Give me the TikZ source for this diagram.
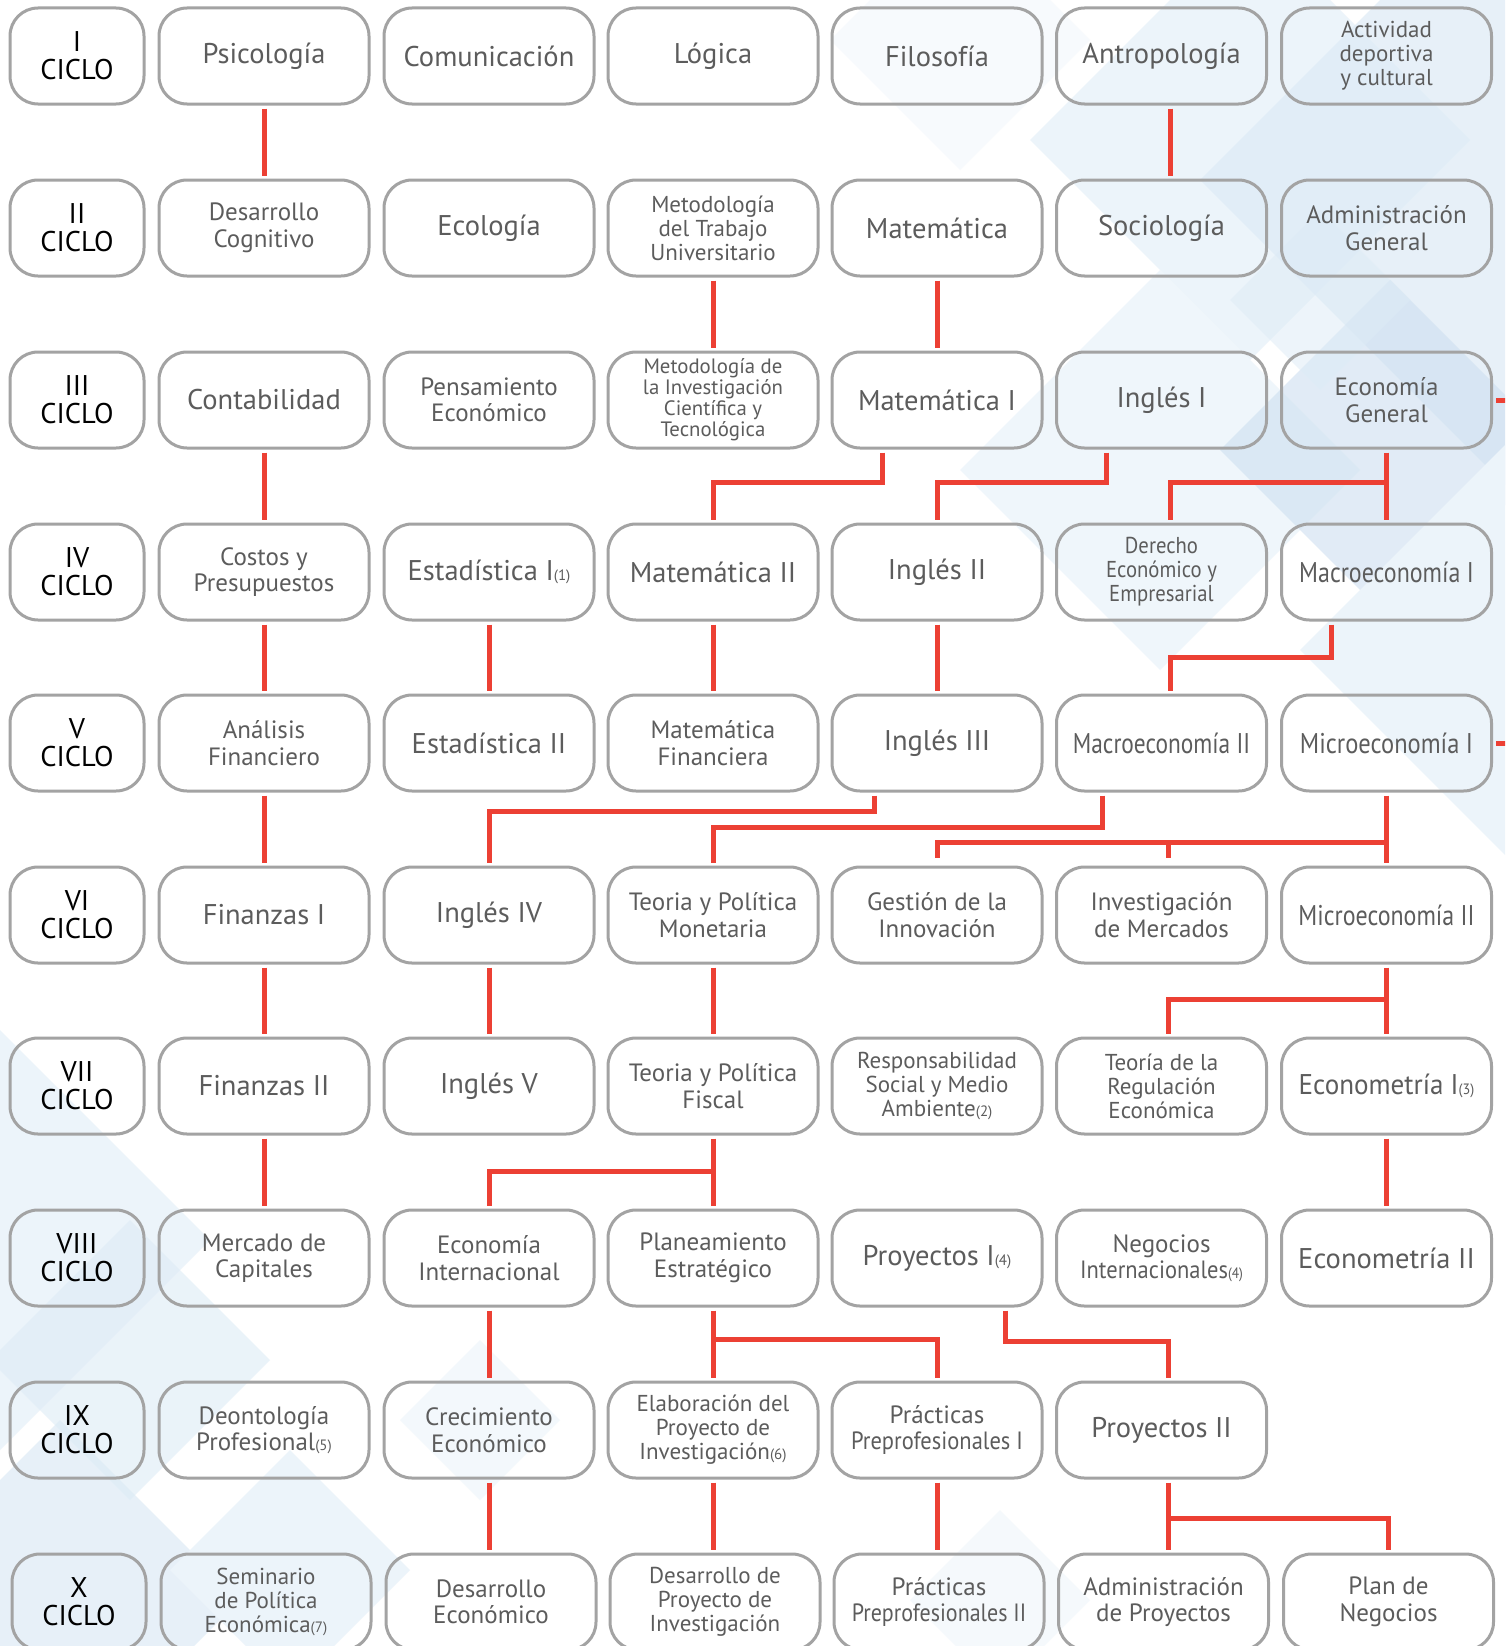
\documentclass[tikz,border=0pt]{standalone}
\usepackage{fontspec}
\setmainfont{PT Sans}
\usepackage{graphicx}
\definecolor{boxgray}{RGB}{163,163,163}
\definecolor{txtgray}{RGB}{92,92,92}
\definecolor{linkred}{RGB}{236,64,52}
\definecolor{bgA}{RGB}{236,244,250}
\definecolor{bgB}{RGB}{221,235,246}
\definecolor{bgC}{RGB}{205,223,240}
\newcommand{\smallnum}[1]{{\fontsize{15}{15}\selectfont(#1)}}
\newcommand{\hsq}[2]{\scalebox{#1}[1]{#2}}
\newcommand{\diam}[3]{\fill[#3] (#1) ++(-#2,0) -- ++(#2,-#2) -- ++(#2,#2) -- ++(-#2,#2) -- cycle;}
\begin{document}
\begin{tikzpicture}[x=1pt,y=-1pt,
  box/.style={draw=boxgray, line width=3pt, rounded corners=28pt, minimum width=210pt, minimum height=96pt,
    inner sep=0pt, align=center, text=txtgray, font=\fontsize{28.5}{29}\selectfont},
  cyc/.style={box, minimum width=134pt, text=black, font=\fontsize{28.5}{28}\selectfont},
  two/.style={font=\fontsize{25}{26.5}\selectfont},
  three/.style={font=\fontsize{23}{24}\selectfont},
  four/.style={font=\fontsize{20.8}{21}\selectfont},
  link/.style={draw=linkred, line width=5pt, shorten <=3pt, shorten >=3pt, line join=miter},
  branch/.style={link, shorten <=0pt}]
\useasboundingbox (0,0) rectangle (1505,1646);
\clip (0,0) rectangle (1505,1646);
\fill[white] (0,0) rectangle (1505,1646);
% background diamonds
\diam{960,40}{130}{bgA, opacity=0.4}
\diam{1250,140}{220}{bgA}
\diam{1520,180}{320}{bgB, opacity=0.7}
\diam{1160,470}{200}{bgA, opacity=0.8}
\diam{1390,450}{170}{bgC, opacity=0.6}
\diam{1520,650}{220}{bgA}
\diam{1320,300}{90}{bgB, opacity=0.5}
\diam{0,1240}{210}{bgA}
\diam{130,1360}{140}{bgB, opacity=0.6}
\diam{60,1600}{180}{bgB, opacity=0.7}
\diam{290,1570}{120}{bgA}
\diam{480,1420}{80}{bgA, opacity=0.6}
\diam{1000,1600}{90}{bgA, opacity=0.5}
% level coordinates
\coordinate (y482) at (0,482);
\coordinate (y657) at (0,657);
\coordinate (y811) at (0,811);
\coordinate (y827) at (0,827);
\coordinate (y842) at (0,842);
\coordinate (y999) at (0,999);
\coordinate (y1171) at (0,1171);
\coordinate (y1339) at (0,1339);
\coordinate (y1341) at (0,1341);
\coordinate (y1518) at (0,1518);
\coordinate (edge) at (1510,0);
% Row I
\node[cyc] (c1) at (77,56) {I\\CICLO};
\node[box] (psi) at (264,56) {Psicología};
\node[box] (com) at (489,56) {Comunicación};
\node[box] (log) at (713,56) {Lógica};
\node[box] (fil) at (937,56) {Filosofía};
\node[box] (ant) at (1161.5,56) {Antropología};
\node[box,three] (act) at (1386.5,56) {Actividad\\deportiva\\y cultural};
% Row II
\node[cyc] (c2) at (77,228) {II\\CICLO};
\node[box,two] (dcog) at (264,228) {Desarrollo\\Cognitivo};
\node[box] (eco) at (489,228) {Ecología};
\node[box,three] (mtu) at (713,228) {Metodología\\del Trabajo\\Universitario};
\node[box] (mat) at (937,228) {Matemática};
\node[box] (soc) at (1161.5,228) {Sociología};
\node[box,two] (adm) at (1386.5,228) {Administración\\General};
% Row III
\node[cyc] (c3) at (77,400) {III\\CICLO};
\node[box] (cont) at (264,400) {Contabilidad};
\node[box,two] (pen) at (489,400) {Pensamiento\\Económico};
\node[box,four] (mic) at (713,400) {Metodología de\\la Investigación\\Científica y\\Tecnológica};
\node[box] (mat1) at (937,400) {Matemática I};
\node[box] (ing1) at (1161.5,400) {Inglés I};
\node[box,two] (egen) at (1386.5,400) {Economía\\General};
% Row IV
\node[cyc] (c4) at (77,572) {IV\\CICLO};
\node[box,two] (cos) at (264,572) {Costos y\\Presupuestos};
\node[box] (est1) at (489,572) {Estadística I\smallnum{1}};
\node[box] (mat2) at (713,572) {Matemática II};
\node[box] (ing2) at (937,572) {Inglés II};
\node[box,three] (der) at (1161.5,572) {\hsq{0.9}{Derecho}\\\hsq{0.9}{Económico y}\\\hsq{0.9}{Empresarial}};
\node[box] (mac1) at (1386.5,572) {\hsq{0.84}{Macroeconomía I}};
% Row V
\node[cyc] (c5) at (77,743) {V\\CICLO};
\node[box,two] (anf) at (264,743) {Análisis\\Financiero};
\node[box] (est2) at (489,743) {Estadística II};
\node[box,two] (matf) at (713,743) {Matemática\\Financiera};
\node[box] (ing3) at (937,743) {Inglés III};
\node[box] (mac2) at (1161.5,743) {\hsq{0.82}{Macroeconomía II}};
\node[box] (mic1) at (1386.5,743) {\hsq{0.86}{Microeconomía I}};
% Row VI
\node[cyc] (c6) at (77,915) {VI\\CICLO};
\node[box] (fin1) at (264,915) {Finanzas I};
\node[box] (ing4) at (489,915) {Inglés IV};
\node[box,two] (tmon) at (713,915) {Teoria y Política\\Monetaria};
\node[box,two] (gin) at (937,915) {Gestión de la\\Innovación};
\node[box,two] (ime) at (1161.5,915) {Investigación\\de Mercados};
\node[box] (mic2) at (1386.5,915) {\hsq{0.84}{Microeconomía II}};
% Row VII
\node[cyc] (c7) at (77,1086) {VII\\CICLO};
\node[box] (fin2) at (264,1086) {Finanzas II};
\node[box] (ing5) at (489,1086) {Inglés V};
\node[box,two] (tfis) at (713,1086) {Teoria y Política\\Fiscal};
\node[box,three] (rsm) at (937,1086) {Responsabilidad\\Social y Medio\\Ambiente\smallnum{2}};
\node[box,three] (treg) at (1161.5,1086) {Teoría de la\\Regulación\\Económica};
\node[box] (ecm1) at (1386.5,1086) {\hsq{0.95}{Econometría I\smallnum{3}}};
% Row VIII
\node[cyc] (c8) at (77,1258) {VIII\\CICLO};
\node[box,two] (mcap) at (264,1258) {Mercado de\\Capitales};
\node[box,two] (eint) at (489,1258) {Economía\\Internacional};
\node[box,two] (pest) at (713,1258) {Planeamiento\\Estratégico};
\node[box] (pro1) at (937,1258) {Proyectos I\smallnum{4}};
\node[box,two] (neg) at (1161.5,1258) {Negocios\\\hsq{0.9}{Internacionales\smallnum{4}}};
\node[box] (ecm2) at (1386.5,1258) {Econometría II};
% Row IX
\node[cyc] (c9) at (77,1430) {IX\\CICLO};
\node[box,two] (deo) at (264,1430) {Deontología\\Profesional\smallnum{5}};
\node[box,two] (cre) at (489,1430) {Crecimiento\\Económico};
\node[box,three] (epi) at (713,1430) {Elaboración del\\Proyecto de\\Investigación\smallnum{6}};
\node[box,two] (pp1) at (937,1430) {Prácticas\\\hsq{0.9}{Preprofesionales I}};
\node[box] (pro2) at (1161.5,1430) {Proyectos II};
% Row X
\node[cyc] (c10) at (79,1602) {X\\CICLO};
\node[box,three] (sem) at (266,1602) {Seminario\\de Política\\Económica\smallnum{7}};
\node[box,two] (dec) at (491,1602) {Desarrollo\\Económico};
\node[box,three] (dpi) at (715,1602) {Desarrollo de\\Proyecto de\\Investigación};
\node[box,two] (pp2) at (939,1602) {Prácticas\\\hsq{0.88}{Preprofesionales II}};
\node[box,two] (apr) at (1163.5,1602) {Administración\\de Proyectos};
\node[box,two] (pne) at (1388.5,1602) {Plan de\\Negocios};
% connectors I-II
\draw[link] (psi.south) -- (dcog.north);
\draw[link] ([xshift=8.5pt]ant.south) -- ([xshift=8.5pt]soc.north);
% II-III
\draw[link] (mtu.south) -- (mic.north);
\draw[link] (mat.south) -- (mat1.north);
% III-IV
\draw[link] (cont.south) -- (cos.north);
\draw[link] ([xshift=-55pt]mat1.south) |- (mat2.north |- y482) -- (mat2.north);
\draw[link] ([xshift=-55pt]ing1.south) |- (ing2.north |- y482) -- (ing2.north);
\draw[link] (egen.south) -- (mac1.north);
\draw[branch] (egen.south |- y482) -| ([xshift=8.5pt]der.north);
\draw[link,shorten >=0pt] (egen.east) -- (egen.east -| edge);
% IV-V
\draw[link] (cos.south) -- (anf.north);
\draw[link] (est1.south) -- (est2.north);
\draw[link] (mat2.south) -- (matf.north);
\draw[link] (ing2.south) -- (ing3.north);
\draw[link] ([xshift=-55pt]mac1.south) |- ([xshift=8.5pt]mac2.north |- y657) -- ([xshift=8.5pt]mac2.north);
\draw[link,shorten >=0pt] (mic1.east) -- (mic1.east -| edge);
% V-VI
\draw[link] (anf.south) -- (fin1.north);
\draw[link] ([xshift=-63pt]ing3.south) |- (ing4.north |- y811) -- (ing4.north);
\draw[link] ([xshift=-59pt]mac2.south) |- (tmon.north |- y827) -- (tmon.north);
\draw[link] (mic1.south) -- (mic2.north);
\draw[branch,shorten >=8pt] (mic1.south |- y842) -| (gin.north);
\draw[branch,shorten >=8pt] ([xshift=7pt]ime.north |- y842) -- ([xshift=7pt]ime.north);
% VI-VII
\draw[link] (fin1.south) -- (fin2.north);
\draw[link] (ing4.south) -- (ing5.north);
\draw[link] (tmon.south) -- (tfis.north);
\draw[link] (mic2.south) -- (ecm1.north);
\draw[branch] (mic2.south |- y999) -| ([xshift=7pt]treg.north);
% VII-VIII
\draw[link] (fin2.south) -- (mcap.north);
\draw[link] (tfis.south) -- (pest.north);
\draw[branch] (tfis.south |- y1171) -| (eint.north);
\draw[link] (ecm1.south) -- (ecm2.north);
% VIII-IX
\draw[link] (eint.south) -- (cre.north);
\draw[link] (pest.south) -- (epi.north);
\draw[branch] (pest.south |- y1339) -| (pp1.north);
\draw[link] ([xshift=68pt]pro1.south) |- ([xshift=7pt]pro2.north |- y1341) -- ([xshift=7pt]pro2.north);
% IX-X
\draw[link] (cre.south) -- (cre.south |- dec.north);
\draw[link] (epi.south) -- (epi.south |- dpi.north);
\draw[link] (pp1.south) -- (pp1.south |- pp2.north);
\draw[link] ([xshift=6.5pt]pro2.south) -- ([xshift=6.5pt]pro2.south |- apr.north);
\draw[branch] ([xshift=6.5pt]pro2.south |- y1518) -| (pne.north);
\end{tikzpicture}
\end{document}
